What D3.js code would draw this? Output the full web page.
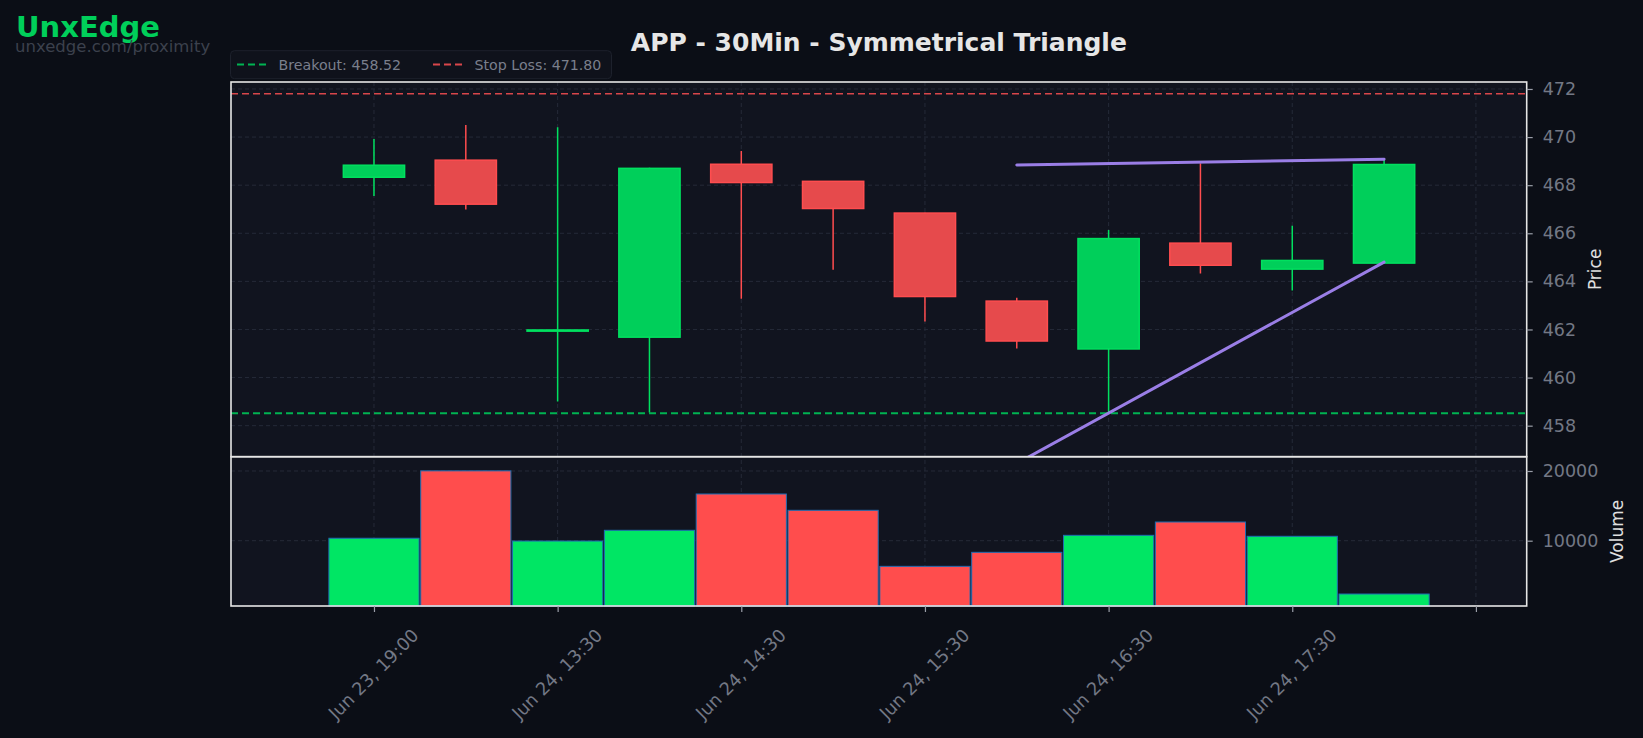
<!DOCTYPE html>
<html lang="en">
<head>
    <meta charset="UTF-8">
    <title>APP - 30Min - Symmetrical Triangle</title>
    <script src="https://d3js.org/d3.v7.min.js"></script>
    <style>
        html, body { margin: 0; padding: 0; background: #0b0e16; }
        svg { display: block; font-family: "DejaVu Sans", sans-serif; }
    </style>
</head>
<body>
    <div id="chart"></div>
    <script>
        // Candles (index based x, ticks every two bars)
        const opens  = [468.33, 469.04, 461.93, 461.68, 468.87, 468.16, 466.84, 463.18, 461.19, 465.59, 464.51, 464.76];
        const highs  = [469.92, 470.50, 470.41, 468.72, 469.42, 468.17, 466.85, 463.32, 466.14, 468.91, 466.31, 469.05];
        const lows   = [467.55, 466.99, 459.01, 458.55, 463.28, 464.48, 462.33, 461.21, 458.52, 464.33, 463.62, 464.76];
        const closes = [468.83, 467.21, 461.98, 468.70, 468.11, 467.03, 463.37, 461.52, 465.78, 464.67, 464.87, 468.86];
        const volumes = [10350, 20020, 9950, 11490, 16700, 14360, 6320, 8330, 10770, 12680, 10630, 2350];

        const tickIndex = [0, 2, 4, 6, 8, 10, 12];
        const tickLabels = ["Jun 23, 19:00", "Jun 24, 13:30", "Jun 24, 14:30", "Jun 24, 15:30", "Jun 24, 16:30", "Jun 24, 17:30", ""];
        const priceTicks = [458, 460, 462, 464, 466, 468, 470, 472];
        const volumeTicks = [10000, 20000];

        const breakout = 458.52;
        const stopLoss = 471.80;
        const upperLine = [[7, 468.84], [11, 469.08]];
        const lowerLine = [[7, 456.43], [11, 464.80]];

        const width = 1643, height = 738;
        const left = 231, right = 1526.7;
        const priceTop = 82, priceBottom = 456.7, volBottom = 606;

        const green = "#00e05f", greenBody = "#00cf5a";
        const red = "#ff4d4f", redBody = "#e64a4c";
        const gridColor = "#252a38";
        const tickColor = "#737885";

        const svg = d3.select("#chart").append("svg")
            .attr("width", width)
            .attr("height", height);

        svg.append("rect").attr("width", width).attr("height", height).attr("fill", "#0b0e16");

        const x = d3.scaleLinear().domain([-1.557, 12.553]).range([left, right]);
        const y = d3.scaleLinear().domain([456.71, 472.29]).range([priceBottom, priceTop]);
        const yv = d3.scaleLinear().domain([630, 22050]).range([volBottom, priceBottom]);

        const idx = d3.range(opens.length);
        const up = i => closes[i] >= opens[i];

        // panel backgrounds
        svg.append("rect").attr("x", left).attr("y", priceTop)
            .attr("width", right - left).attr("height", volBottom - priceTop)
            .attr("fill", "#11141f");

        svg.append("clipPath").attr("id", "clipPrice").append("rect")
            .attr("x", left).attr("y", priceTop).attr("width", right - left).attr("height", priceBottom - priceTop);

        // grid
        const grid = svg.append("g").attr("stroke", gridColor).attr("stroke-width", 1).attr("stroke-dasharray", "4,3");
        grid.selectAll(".gp").data(priceTicks).enter().append("line")
            .attr("x1", left).attr("x2", right).attr("y1", d => y(d)).attr("y2", d => y(d));
        grid.selectAll(".gv").data(volumeTicks).enter().append("line")
            .attr("x1", left).attr("x2", right).attr("y1", d => yv(d)).attr("y2", d => yv(d));
        grid.selectAll(".gx").data(tickIndex).enter().append("line")
            .attr("x1", d => x(d)).attr("x2", d => x(d)).attr("y1", priceTop).attr("y2", volBottom);

        // reference lines
        const price = svg.append("g").attr("clip-path", "url(#clipPrice)");
        price.append("line").attr("x1", left).attr("x2", right)
            .attr("y1", y(stopLoss)).attr("y2", y(stopLoss))
            .attr("stroke", "#d9464b").attr("stroke-width", 1.6).attr("stroke-dasharray", "7,4");
        price.append("line").attr("x1", left).attr("x2", right)
            .attr("y1", y(breakout)).attr("y2", y(breakout))
            .attr("stroke", "#00b352").attr("stroke-width", 2).attr("stroke-dasharray", "7,4");

        // candles
        const bw = 0.667;
        price.selectAll(".wick").data(idx).enter().append("line")
            .attr("x1", i => x(i)).attr("x2", i => x(i))
            .attr("y1", i => y(highs[i])).attr("y2", i => y(lows[i]))
            .attr("stroke", i => up(i) ? green : red).attr("stroke-width", 1.5);
        price.selectAll(".body").data(idx).enter().append("rect")
            .attr("x", i => x(i - bw / 2))
            .attr("width", x(bw) - x(0))
            .attr("y", i => y(Math.max(opens[i], closes[i])))
            .attr("height", i => Math.max(1, y(Math.min(opens[i], closes[i])) - y(Math.max(opens[i], closes[i]))))
            .attr("fill", i => up(i) ? greenBody : redBody)
            .attr("stroke", i => up(i) ? green : red).attr("stroke-width", 1.5);

        // triangle lines
        const line = d3.line().x(d => x(d[0])).y(d => y(d[1]));
        [upperLine, lowerLine].forEach(l => {
            price.append("path").attr("d", line(l))
                .attr("fill", "none").attr("stroke", "#9a7ee6").attr("stroke-width", 3)
                .attr("stroke-linecap", "round");
        });

        // volume bars
        const vw = 0.982;
        svg.append("g").selectAll("rect").data(idx).enter().append("rect")
            .attr("x", i => x(i - vw / 2))
            .attr("width", x(vw) - x(0))
            .attr("y", i => yv(volumes[i]))
            .attr("height", i => volBottom - yv(volumes[i]))
            .attr("fill", i => up(i) ? "#00e664" : "#ff4d4d")
            .attr("stroke", "#1f6db3").attr("stroke-width", 1);

        // panel borders
        const border = svg.append("g").attr("fill", "none").attr("stroke", "#e6e6e6").attr("stroke-width", 1.6);
        border.append("rect").attr("x", left).attr("y", priceTop).attr("width", right - left).attr("height", priceBottom - priceTop);
        border.append("rect").attr("x", left).attr("y", priceBottom).attr("width", right - left).attr("height", volBottom - priceBottom);

        // right axes
        const yAxis = svg.append("g").attr("transform", `translate(${right},0)`)
            .call(d3.axisRight(y).tickValues(priceTicks).tickSize(6).tickPadding(10));
        const vAxis = svg.append("g").attr("transform", `translate(${right},0)`)
            .call(d3.axisRight(yv).tickValues(volumeTicks).tickSize(6).tickPadding(10).tickFormat(d3.format("d")));
        const xAxis = svg.append("g").attr("transform", `translate(0,${volBottom})`)
            .call(d3.axisBottom(x).tickValues(tickIndex).tickSize(6).tickFormat((d, i) => tickLabels[i]));

        [yAxis, vAxis, xAxis].forEach(a => {
            a.select(".domain").remove();
            a.selectAll(".tick line").attr("stroke", "#9a9ea8").attr("stroke-width", 1.2);
            a.selectAll(".tick text").attr("fill", tickColor).attr("font-size", 17.5)
                .attr("font-family", "DejaVu Sans");
        });

        xAxis.selectAll(".tick text")
            .attr("y", 0).attr("dy", "0.35em")
            .attr("font-size", 17.8)
            .attr("text-anchor", "middle")
            .attr("transform", "translate(-1,68) rotate(-45)");

        // axis titles
        svg.append("text").attr("transform", `translate(1601,${(priceTop + priceBottom) / 2}) rotate(-90)`)
            .attr("text-anchor", "middle").attr("fill", "#e0e0e0").attr("font-size", 17).text("Price");
        svg.append("text").attr("transform", `translate(1623,${(priceBottom + volBottom) / 2}) rotate(-90)`)
            .attr("text-anchor", "middle").attr("fill", "#e0e0e0").attr("font-size", 17).text("Volume");

        // title
        svg.append("text").attr("x", (left + right) / 2).attr("y", 51)
            .attr("text-anchor", "middle").attr("fill", "#e6e6e6")
            .attr("font-size", 25).attr("font-weight", "bold")
            .text("APP - 30Min - Symmetrical Triangle");

        // watermark
        svg.append("text").attr("x", 16).attr("y", 37)
            .attr("fill", "#00cf5a").attr("font-size", 29).attr("font-weight", "bold").text("UnxEdge");
        svg.append("text").attr("x", 15).attr("y", 52)
            .attr("fill", "#3c414d").attr("font-size", 16.5).text("unxedge.com/proximity");

        // legend
        const legend = svg.append("g");
        legend.append("rect").attr("x", 230.5).attr("y", 50.7).attr("width", 381).attr("height", 28)
            .attr("rx", 4).attr("fill", "#0f121b").attr("stroke", "#1d212c").attr("stroke-width", 1);
        const items = [
            { label: "Breakout: " + breakout.toFixed(2), color: "#00b352", x: 237 },
            { label: "Stop Loss: " + stopLoss.toFixed(2), color: "#d9464b", x: 433 }
        ];
        items.forEach(it => {
            legend.append("line").attr("x1", it.x).attr("x2", it.x + 29).attr("y1", 64.5).attr("y2", 64.5)
                .attr("stroke", it.color).attr("stroke-width", 2).attr("stroke-dasharray", "7,4");
            legend.append("text").attr("x", it.x + 41.5).attr("y", 69.5)
                .attr("fill", "#7a7f8c").attr("font-size", 14.2).text(it.label);
        });
    </script>
</body>
</html>
